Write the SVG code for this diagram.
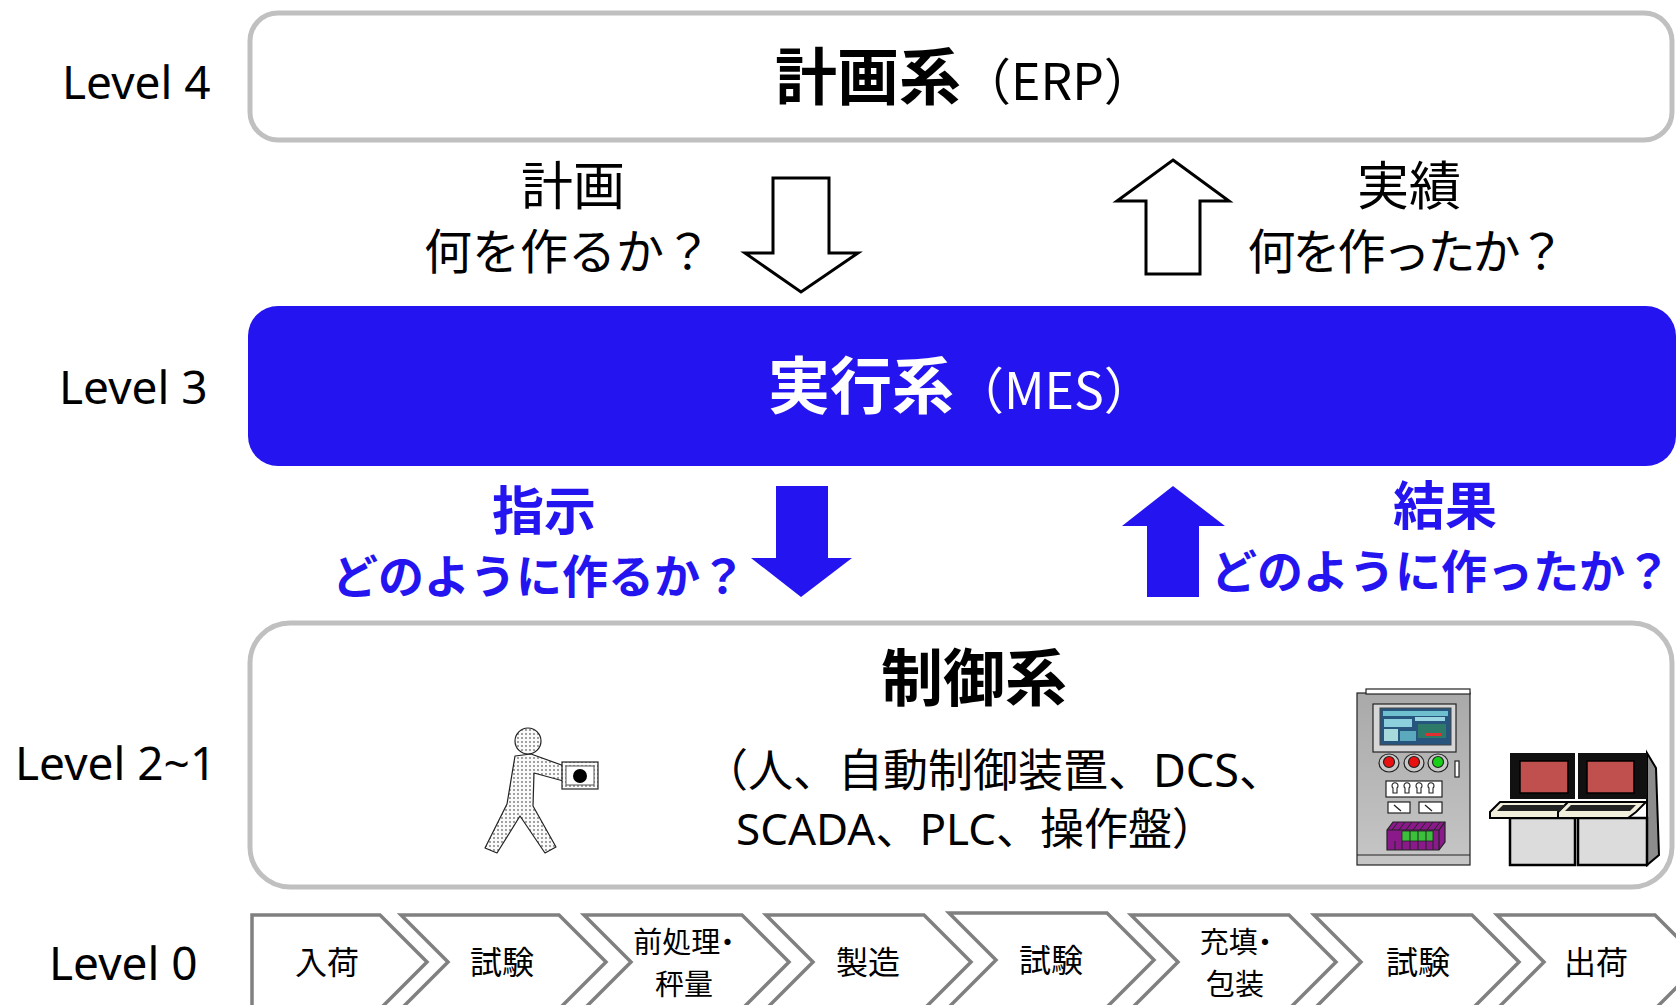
<svg xmlns="http://www.w3.org/2000/svg" width="1676" height="1005" viewBox="0 0 1676 1005">
  <defs>
    <style>
      .lv { font-family: "Noto Sans", "Liberation Sans", sans-serif; font-size: 46px; fill: #000; }
      .jp { font-family: "Noto Sans CJK JP", sans-serif; fill: #000; }
      .mix { font-family: "Noto Sans", "Noto Sans CJK JP", sans-serif; }
      .title { font-family: "Noto Sans CJK JP", sans-serif; font-weight: 700; font-size: 62px; }
      .sub { font-family: "Noto Sans CJK JP", sans-serif; font-weight: 400; font-size: 50px; }
      .blue { fill: #2414f0; font-family: "Noto Sans CJK JP", sans-serif; font-weight: 700; }
      .frame { fill: #fff; stroke: #c0c0c0; stroke-width: 5; }
      .chev { fill: #fff; stroke: #808080; stroke-width: 3.5; stroke-linejoin: miter; }
      .step { font-family: "Noto Sans CJK JP", sans-serif; fill: #000; text-anchor: middle; }
      .prop { font-feature-settings: "palt"; }
      .ink { stroke: #222; stroke-width: 1.2; }
    </style>
    <path id="chevron" d="M0,0 H158 L205,47 L158,94 H0 L47,47 Z"/>
    <linearGradient id="steel" x1="0" y1="0" x2="0" y2="1">
      <stop offset="0" stop-color="#a9a9a9"/>
      <stop offset="1" stop-color="#c6c6c6"/>
    </linearGradient>
    <pattern id="dots" width="4" height="4" patternUnits="userSpaceOnUse">
      <rect width="4" height="4" fill="#fafafa"/>
      <circle cx="2" cy="2" r="0.9" fill="#777"/>
    </pattern>
  </defs>

  <rect width="1676" height="1005" fill="#fff"/>

  <!-- level labels -->
  <g id="levels">
    <text class="lv" x="62" y="99">Level 4</text>
    <text class="lv" x="59" y="404">Level 3</text>
    <text class="lv" x="15" y="780">Level 2~1</text>
    <text class="lv" x="49" y="980">Level 0</text>
  </g>

  <!-- Level 4: planning -->
  <g id="erp">
    <rect class="frame" x="250" y="13" width="1422" height="127" rx="28"/>
    <text x="775" y="100"><tspan class="title">計画系</tspan><tspan class="sub">（ERP）</tspan></text>
  </g>

  <!-- Level 3: execution -->
  <g id="mes">
    <rect x="248" y="306" width="1428" height="160" rx="30" fill="#2414f0"/>
    <text x="768" y="409" fill="#fff"><tspan class="title">実行系</tspan><tspan class="sub">（MES）</tspan></text>
  </g>

  <!-- Level 2~1: control -->
  <g id="control">
    <rect class="frame" x="250" y="623" width="1422" height="264" rx="40"/>
    <text class="title" x="974" y="701" text-anchor="middle">制御系</text>
    <text class="mix" font-size="45" x="703" y="787">（人、自動制御装置、DCS、</text>
    <text class="mix" font-size="44" x="736" y="845">SCADA、PLC、操作盤）</text>
  </g>

  <!-- operator pictogram -->
  <g id="operator">
    <circle cx="528" cy="741" r="13" fill="url(#dots)" class="ink"/>
    <path d="M515,756 L531,754 L567,767 L567,782 L534,773 L533,806 L556,847 L545,853 L520,816 L497,853 L485,848 L507,804 Z" fill="url(#dots)" class="ink" stroke-linejoin="round"/>
    <rect x="562" y="762" width="36" height="27" fill="url(#dots)" class="ink"/>
    <rect x="566" y="766" width="28" height="19" fill="#fff" stroke="#555" stroke-width="1"/>
    <circle cx="580" cy="776" r="7" fill="#000"/>
  </g>

  <!-- control cabinet -->
  <g id="cabinet">
    <rect x="1357" y="693" width="113" height="172" fill="url(#steel)" class="ink"/>
    <rect x="1366" y="689" width="104" height="5" fill="#fff" class="ink"/>
    <line x1="1357" y1="855" x2="1470" y2="855" class="ink"/>
    <rect x="1373" y="704" width="83" height="48" fill="#d6d6d6" class="ink"/>
    <rect x="1380" y="708" width="71" height="37" fill="#27557e" stroke="#444" stroke-width="1"/>
    <rect x="1383" y="711" width="65" height="5" fill="#6fc0cf"/>
    <rect x="1384" y="719" width="28" height="8" fill="#8bd0dc"/>
    <rect x="1384" y="729" width="14" height="12" fill="#a6dadb"/>
    <rect x="1400" y="731" width="16" height="10" fill="#5aa9bd"/>
    <rect x="1418" y="724" width="28" height="14" fill="#2e7a68"/>
    <rect x="1425" y="733" width="16" height="3" fill="#e03030"/>
    <rect x="1415" y="717" width="30" height="4" fill="#9ad6e2"/>
    <g class="ink">
      <ellipse cx="1389" cy="763" rx="10" ry="9" fill="#c8c8c8"/>
      <ellipse cx="1414" cy="763" rx="10" ry="9" fill="#c8c8c8"/>
      <ellipse cx="1438" cy="763" rx="10" ry="9" fill="#c8c8c8"/>
    </g>
    <circle cx="1389" cy="762" r="5.5" fill="#e81010" class="ink"/>
    <circle cx="1414" cy="762" r="5.5" fill="#e81010" class="ink"/>
    <circle cx="1438" cy="762" r="5.5" fill="#18d018" class="ink"/>
    <rect x="1455" y="761" width="4" height="16" fill="#fff" class="ink"/>
    <rect x="1386" y="781" width="56" height="16" fill="#fff" class="ink"/>
    <g fill="none" stroke="#222" stroke-width="1.1">
      <path d="M1393,793 v-5 a3,3 0 1 1 4,0 v5 z"/>
      <path d="M1405,793 v-5 a3,3 0 1 1 4,0 v5 z"/>
      <path d="M1417,793 v-5 a3,3 0 1 1 4,0 v5 z"/>
      <path d="M1429,793 v-5 a3,3 0 1 1 4,0 v5 z"/>
    </g>
    <rect x="1388" y="802" width="22" height="11" fill="#fff" class="ink"/>
    <rect x="1419" y="802" width="23" height="11" fill="#fff" class="ink"/>
    <path d="M1394,805 L1401,811 M1425,805 L1432,811" stroke="#222" stroke-width="1.3"/>
    <polygon points="1387,830 1393,822 1445,822 1445,842 1439,850 1387,850" fill="#8a1a8a" class="ink"/>
    <path d="M1387,830 H1439 L1445,822 M1439,830 V850" fill="none" class="ink"/>
    <path d="M1398,822 L1392,830 M1405,822 L1399,830 M1412,822 L1406,830 M1419,822 L1413,830 M1426,822 L1420,830 M1433,822 L1427,830 M1440,822 L1434,830" stroke="#222" stroke-width="1"/>
    <rect x="1402" y="831" width="31" height="10" fill="#3cc03c" stroke="#222" stroke-width="0.8"/>
    <path d="M1410,831 V841 M1418,831 V841 M1426,831 V841 M1395,841 V850 M1402,841 V850 M1410,841 V850 M1418,841 V850 M1426,841 V850 M1433,841 V850" stroke="#222" stroke-width="1"/>
  </g>

  <!-- operator console -->
  <g id="console">
    <polygon points="1647,753 1656,768 1659,855 1647,865" fill="#8c8c8c" stroke="#000" stroke-width="2"/>
    <rect x="1510" y="818" width="65" height="47" fill="#dcdcdc" stroke="#000" stroke-width="2.5"/>
    <rect x="1578" y="818" width="69" height="47" fill="#dcdcdc" stroke="#000" stroke-width="2.5"/>
    <rect x="1510" y="753" width="65" height="46" fill="#111"/>
    <rect x="1578" y="753" width="69" height="46" fill="#111"/>
    <rect x="1520" y="761" width="48" height="32" fill="#c0504d" stroke="#000" stroke-width="1.5"/>
    <rect x="1587" y="761" width="47" height="32" fill="#c0504d" stroke="#000" stroke-width="1.5"/>
    <polygon points="1500,802 1576,802 1568,812 1560,818 1490,818 1490,812" fill="#f2eedc" stroke="#000" stroke-width="2"/>
    <polygon points="1568,802 1646,802 1636,812 1628,818 1558,818 1558,812" fill="#f2eedc" stroke="#000" stroke-width="2"/>
    <polygon points="1503,805 1566,805 1560,811 1497,811" fill="#222"/>
    <polygon points="1571,805 1636,805 1630,811 1565,811" fill="#222"/>
  </g>

  <!-- flow arrows between levels -->
  <g id="connectors">
    <polygon points="773,178 829,178 829,253 858,253 801,292 745,253 773,253" fill="#fff" stroke="#000" stroke-width="3"/>
    <polygon points="1173,160 1229,201 1200,201 1200,274 1146,274 1146,201 1117,201" fill="#fff" stroke="#000" stroke-width="3"/>
    <polygon points="776,486 828,486 828,558 852,558 801,597 751,558 776,558" fill="#2414f0"/>
    <polygon points="1173,486 1225,526 1199,526 1199,597 1147,597 1147,526 1122,526" fill="#2414f0"/>
  </g>

  <!-- arrow captions -->
  <g id="captions">
    <text class="jp" font-size="52" x="573" y="205" text-anchor="middle">計画</text>
    <text class="jp" font-size="48" x="568" y="269" text-anchor="middle">何を作るか？</text>
    <text class="jp" font-size="52" x="1409" y="205" text-anchor="middle">実績</text>
    <text class="jp" font-size="48" letter-spacing="-3" x="1405" y="269" text-anchor="middle">何を作ったか？</text>
    <text class="blue" font-size="52" x="544" y="530" text-anchor="middle">指示</text>
    <text class="blue" font-size="46" x="539" y="593" text-anchor="middle">どのように作るか？</text>
    <text class="blue" font-size="52" x="1445" y="525" text-anchor="middle">結果</text>
    <text class="blue" font-size="46" x="1441" y="588" text-anchor="middle">どのように作ったか？</text>
  </g>

  <!-- Level 0: process steps -->
  <g id="steps">
    <g id="step-1">
      <path class="chev" d="M252,915 H380 L427,962 L380,1009 H252 Z"/>
      <text class="step" font-size="32" x="327" y="974">入荷</text>
    </g>
    <g id="step-2">
      <use href="#chevron" class="chev" x="401" y="915"/>
      <text class="step" font-size="32" x="502" y="974">試験</text>
    </g>
    <g id="step-3">
      <use href="#chevron" class="chev" x="584" y="915"/>
      <text class="step prop" font-size="29" x="684" y="953">前処理・</text>
      <text class="step" font-size="29" x="684" y="995">秤量</text>
    </g>
    <g id="step-4">
      <use href="#chevron" class="chev" x="766" y="915"/>
      <text class="step" font-size="32" x="868" y="974">製造</text>
    </g>
    <g id="step-5">
      <use href="#chevron" class="chev" x="949" y="913"/>
      <text class="step" font-size="32" x="1051" y="972">試験</text>
    </g>
    <g id="step-6">
      <use href="#chevron" class="chev" x="1131" y="915"/>
      <text class="step prop" font-size="29" x="1236" y="953">充填・</text>
      <text class="step" font-size="29" x="1235" y="995">包装</text>
    </g>
    <g id="step-7">
      <use href="#chevron" class="chev" x="1314" y="915"/>
      <text class="step" font-size="32" x="1418" y="974">試験</text>
    </g>
    <g id="step-8">
      <use href="#chevron" class="chev" x="1497" y="915"/>
      <text class="step" font-size="32" x="1596" y="974">出荷</text>
    </g>
  </g>
</svg>
